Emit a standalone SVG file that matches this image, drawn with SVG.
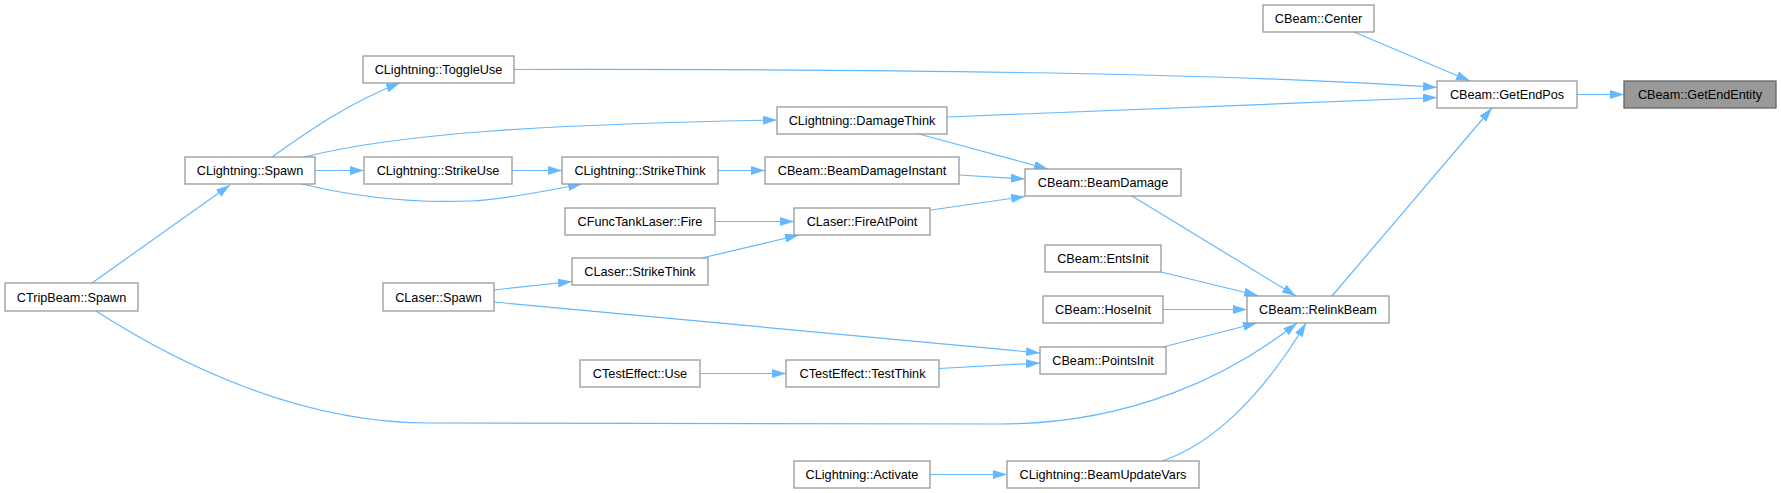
<svg xmlns="http://www.w3.org/2000/svg" width="1781" height="493" viewBox="0 0 1781 493">
<style>
.n rect{fill:#fff;stroke:#999;stroke-width:1.3}
.n.h rect{fill:#999;stroke:#666}
.n text{font-family:"Liberation Sans",Arial,sans-serif;font-size:12.7px;fill:#000;text-anchor:middle}
.e path{fill:none;stroke:#63b8ff;stroke-width:1.2;marker-end:url(#a)}
</style>
<defs>
<marker id="a" markerUnits="userSpaceOnUse" markerWidth="15" markerHeight="10" refX="14" refY="4.5" orient="auto">
<path d="M0,0 L14,4.5 L0,9 z" fill="#63b8ff"/>
</marker>
</defs>
<rect width="1781" height="493" fill="#fff"/>
<g id="edges" class="e">
<path d="M1577,94.5 L1624,94.5"/>
<path d="M1354,32 L1470,81"/>
<path d="M514,69.5 C800,69 1200,71 1437,87.5"/>
<path d="M947,117 L1437,97.5"/>
<path d="M1332,296 L1492,108"/>
<path d="M1132,196 L1296,296"/>
<path d="M1161,272 L1258,295.5"/>
<path d="M1163,309.5 L1247,309.5"/>
<path d="M1163,347 L1257,323"/>
<path d="M96,311 C180,365 300,423 430,423 L1000,424 C1130,424 1230,376 1297,323"/>
<path d="M1162,461 C1210,445 1260,400 1306,323"/>
<path d="M930,474.5 L1007,474.5"/>
<path d="M700,373.5 L786,373.5"/>
<path d="M939,368.5 L1040,363"/>
<path d="M494,302 L1040,353"/>
<path d="M494,290 L572,281.5"/>
<path d="M702,258 L799,235"/>
<path d="M715,221.5 L794,221.5"/>
<path d="M931,210 L1025,196.5"/>
<path d="M959,175 L1025,179"/>
<path d="M917,133.5 L1048,169"/>
<path d="M718,170.5 L765,170.5"/>
<path d="M512,170.5 L562,170.5"/>
<path d="M315,170.5 L364,170.5"/>
<path d="M302,184 C360,198 420,203 470,201 C510,199 550,190 582,184"/>
<path d="M304,157 C400,133 550,124 777,120"/>
<path d="M272,157 C310,130 350,102 400,83"/>
<path d="M92,283 L230,185"/>
</g>
<g id="center" class="n"><rect x="1263" y="5" width="111" height="27"/><text x="1318.5" y="23">CBeam::Center</text></g>
<g id="getendpos" class="n"><rect x="1437" y="81" width="140" height="27"/><text x="1507" y="99">CBeam::GetEndPos</text></g>
<g id="getendentity" class="n h"><rect x="1624" y="81" width="152" height="27"/><text x="1700" y="99">CBeam::GetEndEntity</text></g>
<g id="toggleuse" class="n"><rect x="363" y="56" width="151" height="27"/><text x="438.5" y="74">CLightning::ToggleUse</text></g>
<g id="damagethink" class="n"><rect x="777" y="107" width="170" height="27"/><text x="862" y="125">CLightning::DamageThink</text></g>
<g id="lspawn" class="n"><rect x="185" y="157" width="130" height="27"/><text x="250" y="175">CLightning::Spawn</text></g>
<g id="strikeuse" class="n"><rect x="364" y="157" width="148" height="27"/><text x="438" y="175">CLightning::StrikeUse</text></g>
<g id="strikethink" class="n"><rect x="562" y="157" width="156" height="27"/><text x="640" y="175">CLightning::StrikeThink</text></g>
<g id="beamdamageinstant" class="n"><rect x="765" y="157" width="194" height="27"/><text x="862" y="175">CBeam::BeamDamageInstant</text></g>
<g id="beamdamage" class="n"><rect x="1025" y="169" width="156" height="27"/><text x="1103" y="187">CBeam::BeamDamage</text></g>
<g id="functanklaserfire" class="n"><rect x="565" y="208" width="150" height="27"/><text x="640" y="226">CFuncTankLaser::Fire</text></g>
<g id="fireatpoint" class="n"><rect x="794" y="208" width="136" height="27"/><text x="862" y="226">CLaser::FireAtPoint</text></g>
<g id="laserstrikethink" class="n"><rect x="572" y="258" width="136" height="27"/><text x="640" y="276">CLaser::StrikeThink</text></g>
<g id="entsinit" class="n"><rect x="1045" y="245" width="116" height="27"/><text x="1103" y="263">CBeam::EntsInit</text></g>
<g id="tripbeamspawn" class="n"><rect x="5" y="283" width="133" height="28"/><text x="71.5" y="301.5">CTripBeam::Spawn</text></g>
<g id="laserspawn" class="n"><rect x="383" y="283" width="111" height="28"/><text x="438.5" y="301.5">CLaser::Spawn</text></g>
<g id="hoseinit" class="n"><rect x="1043" y="296" width="120" height="27"/><text x="1103" y="314">CBeam::HoseInit</text></g>
<g id="relinkbeam" class="n"><rect x="1247" y="296" width="142" height="27"/><text x="1318" y="314">CBeam::RelinkBeam</text></g>
<g id="pointsinit" class="n"><rect x="1040" y="347" width="126" height="27"/><text x="1103" y="365">CBeam::PointsInit</text></g>
<g id="testeffectuse" class="n"><rect x="580" y="360" width="120" height="27"/><text x="640" y="378">CTestEffect::Use</text></g>
<g id="testthink" class="n"><rect x="786" y="360" width="153" height="27"/><text x="862.5" y="378">CTestEffect::TestThink</text></g>
<g id="activate" class="n"><rect x="794" y="461" width="136" height="27"/><text x="862" y="479">CLightning::Activate</text></g>
<g id="beamupdatevars" class="n"><rect x="1007" y="461" width="192" height="27"/><text x="1103" y="479">CLightning::BeamUpdateVars</text></g>
</svg>
